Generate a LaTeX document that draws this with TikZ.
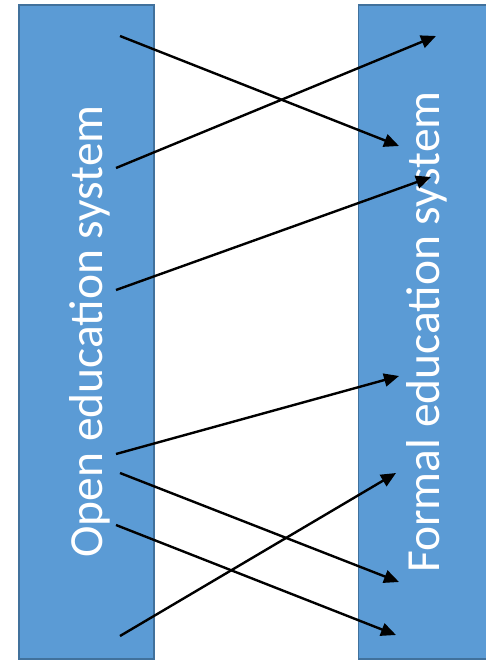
\documentclass[tikz,border=0pt]{standalone}
\usepackage{fontspec}
\setmainfont{Carlito}
\usetikzlibrary{arrows.meta}
\definecolor{boxfill}{HTML}{5B9BD5}
\definecolor{boxline}{HTML}{41719C}
\tikzset{
  sysbox/.style={fill=boxfill, draw=boxline, line width=1.8pt},
  systext/.style={text=white, rotate=90, anchor=base, inner sep=0pt,
    font=\fontsize{47.5}{57}\selectfont},
  link/.style={draw=black, line width=2.4pt,
    -{Triangle[length=15pt,width=13pt]}}
}
\begin{document}
\begin{tikzpicture}[x=1pt,y=-1pt]
\useasboundingbox (0,0) rectangle (486,661);
\clip (0,0) rectangle (486,661);
\node[sysbox, minimum width=135pt, minimum height=654pt, inner sep=0pt] (open) at (86.5,332) {};
\node[sysbox, minimum width=160pt, minimum height=654pt, inner sep=0pt] (formal) at (438.5,332) {};
\node[systext] (opentext) at (102,331.5) {Open education system};
\node[systext] (formaltext) at (439.5,332) {Formal education system};
% start and end coordinates
\coordinate (s1) at (120,36);  \coordinate (e1) at (399,146);
\coordinate (s2) at (116,168); \coordinate (e2) at (436,36);
\coordinate (s3) at (116,290); \coordinate (e3) at (431,177);
\coordinate (s4) at (116,454); \coordinate (e4) at (399,376);
\coordinate (s5) at (120,473); \coordinate (e5) at (399,582);
\coordinate (s6) at (116,525); \coordinate (e6) at (396,635);
\coordinate (s7) at (120,636); \coordinate (e7) at (396,473);
\foreach \i in {1,...,7} {\draw[link] (s\i) -- (e\i);}
\end{tikzpicture}
\end{document}
